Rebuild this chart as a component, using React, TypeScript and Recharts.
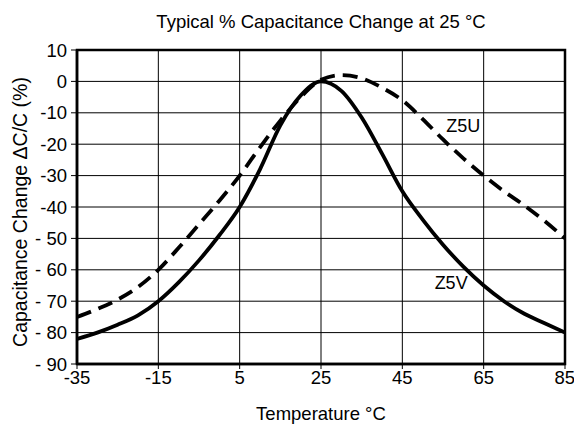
import React from "react";
import {
  LineChart,
  Line,
  XAxis,
  YAxis,
  CartesianGrid,
  ReferenceArea,
  ReferenceDot,
} from "recharts";

const temps = [
  -35, -30, -25, -20, -15, -10, -5, 0, 5, 10, 15, 20, 25, 30, 35, 40, 45, 50,
  55, 60, 65, 70, 75, 80, 85,
];
const z5v = [
  -82, -80, -77.5, -74.5, -70, -64, -57, -49, -40, -28, -14, -4.5, 0, -3,
  -11.5, -23, -35, -44, -52, -59, -65, -70, -74, -77, -80,
];
const z5u = [
  -75, -72.5, -69.5, -65.5, -60, -53, -45.5, -38, -30, -21, -12.5, -5, 0.5, 2,
  1, -2, -6, -12, -18.5, -24.5, -30, -35, -39.5, -44.5, -50,
];
const xTicks = [-35, -15, 5, 25, 45, 65, 85];
const yTicks = [10, 0, -10, -20, -30, -40, -50, -60, -70, -80, -90];
const yTickLabels = ["10", "0", "-10", "-20", "-30", "-40", "- 50", "- 60", "- 70", "- 80", "- 90"];

const data = temps.map((t, i) => ({ t, z5v: z5v[i], z5u: z5u[i] }));

const font = "'Liberation Sans', Arial, Helvetica, sans-serif";

const App = () => {
  return (
    <div style={{ position: "absolute", left: 0, top: 0, width: 574, height: 426, background: "#fff" }}>
      <LineChart
        width={574}
        height={426}
        data={data}
        margin={{ top: 50, right: 9, left: 0, bottom: 0 }}
        style={{ fontFamily: font }}
      >
        <text x={321} y={28} textAnchor="middle" fontSize={18.5} fill="#000" fontFamily={font}>
          Typical % Capacitance Change at 25 °C
        </text>
        <text
          x={20}
          y={212}
          textAnchor="middle"
          dominantBaseline="central"
          transform="rotate(-90, 20, 212)"
          fontSize={19.5}
          fill="#000"
          fontFamily={font}
        >
          Capacitance Change ΔC/C (%)
        </text>
        <CartesianGrid stroke="#000" strokeWidth={1} horizontalValues={yTicks} verticalValues={xTicks} />
        <XAxis
          dataKey="t"
          type="number"
          domain={[-35, 85]}
          ticks={xTicks}
          allowDataOverflow
          height={62}
          tickSize={5}
          tickMargin={2}
          axisLine={{ stroke: "#000", strokeWidth: 2.5 }}
          tickLine={{ stroke: "#000", strokeWidth: 1 }}
          tick={{ fill: "#000", fontSize: 18.5 }}
          label={{ value: "Temperature °C", position: "insideBottom", offset: 6, fill: "#000", fontSize: 18.5 }}
        />
        <YAxis
          type="number"
          domain={[-90, 10]}
          ticks={yTicks}
          allowDataOverflow
          width={77}
          tickSize={6}
          tickMargin={4}
          interval={0}
          tickFormatter={(v: number) => yTickLabels[yTicks.indexOf(v)]}
          axisLine={{ stroke: "#000", strokeWidth: 2.5 }}
          tickLine={{ stroke: "#000", strokeWidth: 1 }}
          tick={{ fill: "#000", fontSize: 18.5 }}
        />
        <ReferenceArea x1={-35} x2={85} y1={-90} y2={10} fill="none" stroke="#000" strokeWidth={2.5} ifOverflow="visible" />
        <Line
          type="monotone"
          dataKey="z5u"
          stroke="#000"
          strokeWidth={3.8}
          strokeDasharray="15 8"
          dot={false}
          isAnimationActive={false}
        />
        <Line
          type="monotone"
          dataKey="z5v"
          stroke="#000"
          strokeWidth={3.8}
          dot={false}
          isAnimationActive={false}
        />
        <ReferenceDot x={60} y={-14} r={0} fill="none" stroke="none" label={{ value: "Z5U", position: "center", fill: "#000", fontSize: 18 }} />
        <ReferenceDot x={57} y={-64} r={0} fill="none" stroke="none" label={{ value: "Z5V", position: "center", fill: "#000", fontSize: 18 }} />
      </LineChart>
    </div>
  );
};

export default App;
